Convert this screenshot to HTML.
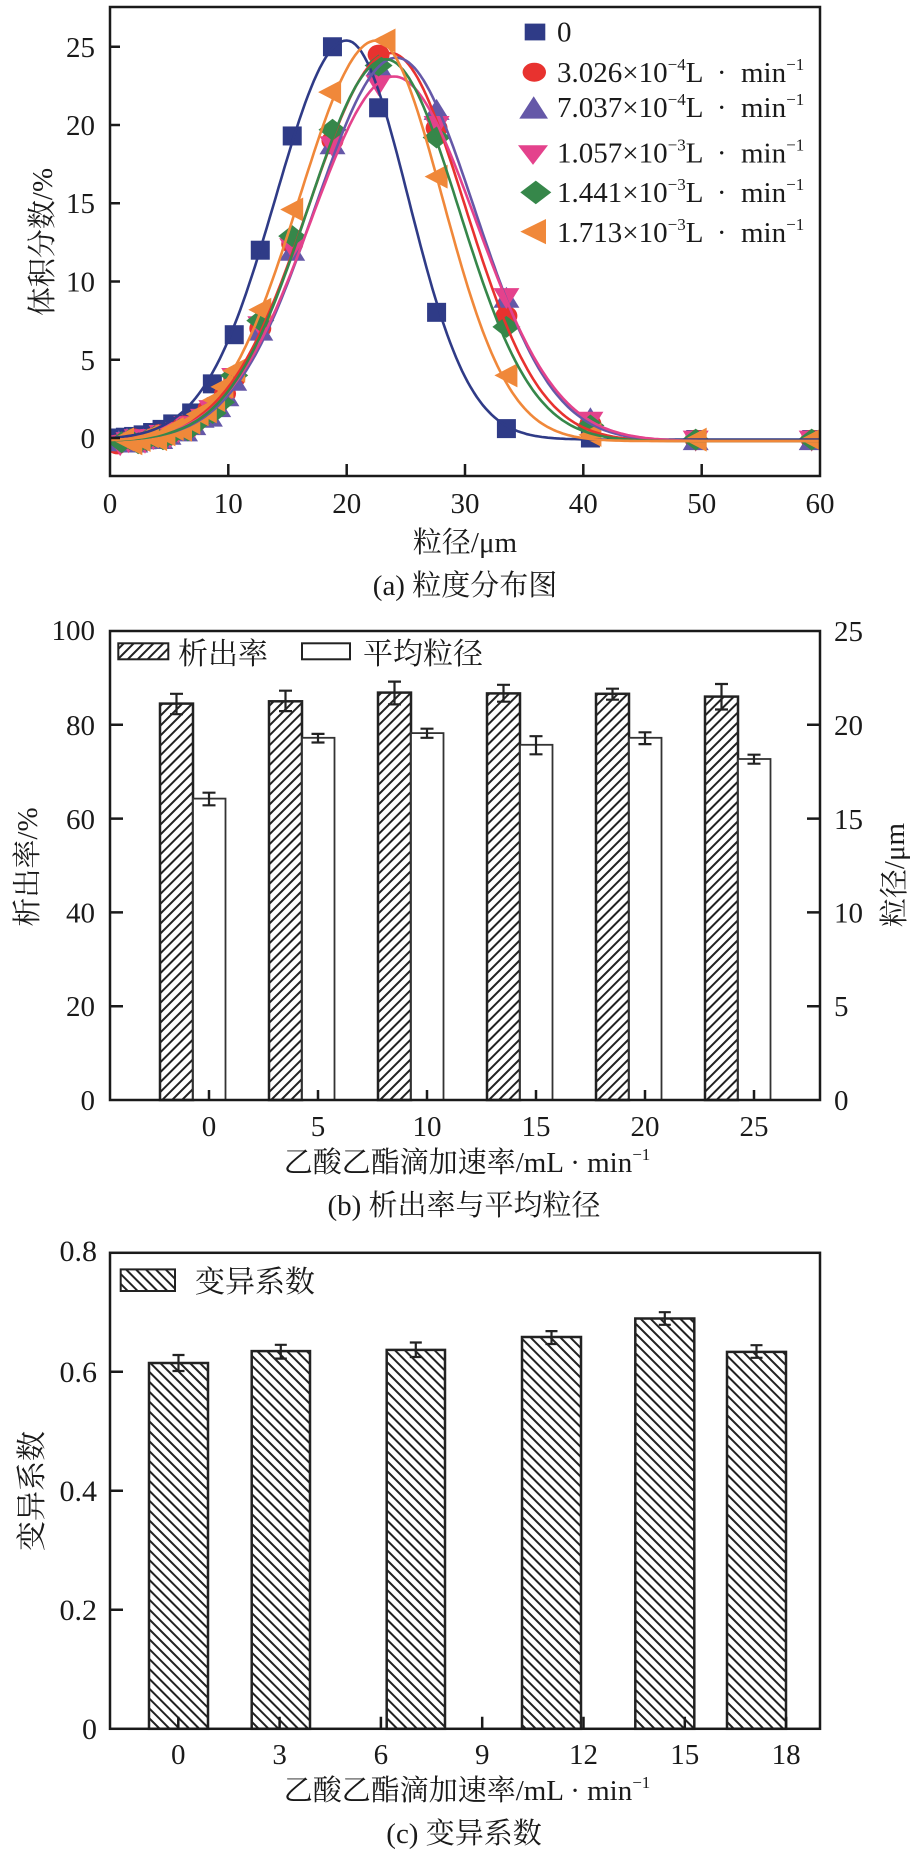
<!DOCTYPE html>
<html><head><meta charset="utf-8">
<style>
html,body{margin:0;padding:0;background:#fff;}
svg{display:block;}
text{font-family:"Liberation Serif","Noto Serif CJK SC",serif;fill:#1a1a1a;white-space:pre;}
</style></head><body>
<svg id="root" xmlns="http://www.w3.org/2000/svg" width="924" height="1851" viewBox="0 0 924 1851">
<defs>
<pattern id="hb" patternUnits="userSpaceOnUse" width="7" height="7" patternTransform="rotate(45)"><rect width="7" height="7" fill="#fff"/><line x1="3.5" y1="-1" x2="3.5" y2="8" stroke="#222" stroke-width="2"/></pattern>
<pattern id="hc" patternUnits="userSpaceOnUse" width="7" height="7" patternTransform="rotate(-45)"><rect width="7" height="7" fill="#fff"/><line x1="3.5" y1="-1" x2="3.5" y2="8" stroke="#222" stroke-width="2"/></pattern>
<clipPath id="ca"><rect x="110" y="7" width="710" height="469"/></clipPath>
</defs>

<!-- ============ Panel A ============ -->
<g id="aseries" clip-path="url(#ca)"></g>
<rect x="110" y="7" width="710" height="469" fill="none" stroke="#1a1a1a" stroke-width="2.5"/>
<path d="M110,438h10M110,359.75h10M110,281.5h10M110,203.25h10M110,125h10M110,46.75h10M228.3,476v-12M346.7,476v-12M465,476v-12M583.3,476v-12M701.7,476v-12" stroke="#1a1a1a" stroke-width="2.5" fill="none"/>
<g font-size="29" text-anchor="end">
<text x="95" y="448">0</text>
<text x="95" y="370">5</text>
<text x="95" y="291.5">10</text>
<text x="95" y="213">15</text>
<text x="95" y="135">20</text>
<text x="95" y="57">25</text>
</g>
<g font-size="29" text-anchor="middle">
<text x="110" y="513">0</text>
<text x="228.3" y="513">10</text>
<text x="346.7" y="513">20</text>
<text x="465" y="513">30</text>
<text x="583.3" y="513">40</text>
<text x="701.7" y="513">50</text>
<text x="820" y="513">60</text>
</g>
<text font-size="29" text-anchor="middle" transform="translate(42,242) rotate(-90)" dy="10">体积分数/%</text>
<text font-size="29" text-anchor="middle" x="465" y="552">粒径/μm</text>
<text font-size="29" text-anchor="middle" x="465" y="595">(a) 粒度分布图</text>

<!-- legend A -->
<rect x="524.7" y="23.6" width="20.6" height="16.8" fill="#2f3b87"/>
<ellipse cx="534.3" cy="72.2" rx="11.7" ry="9.5" fill="#e8322f"/>
<polygon points="519.3,118.6 548,118.6 533.7,96.2" fill="#6558a8"/>
<polygon points="518,145.3 548,145.3 533,164.9" fill="#e4428c"/>
<polygon points="520.3,192.4 535.8,180.6 551.3,192.4 535.8,204.2" fill="#36874a"/>
<polygon points="520.3,231.6 546,219 546,244.2" fill="#f0883a"/>
<g font-size="29">
<text x="557" y="41.5">0</text>
<text x="557" y="82">3.026×10<tspan font-size="17" dy="-12">−4</tspan><tspan dy="12">L  ·  min</tspan><tspan font-size="17" dy="-12">−1</tspan></text>
<text x="557" y="117">7.037×10<tspan font-size="17" dy="-12">−4</tspan><tspan dy="12">L  ·  min</tspan><tspan font-size="17" dy="-12">−1</tspan></text>
<text x="557" y="162.5">1.057×10<tspan font-size="17" dy="-12">−3</tspan><tspan dy="12">L  ·  min</tspan><tspan font-size="17" dy="-12">−1</tspan></text>
<text x="557" y="202">1.441×10<tspan font-size="17" dy="-12">−3</tspan><tspan dy="12">L  ·  min</tspan><tspan font-size="17" dy="-12">−1</tspan></text>
<text x="557" y="242">1.713×10<tspan font-size="17" dy="-12">−3</tspan><tspan dy="12">L  ·  min</tspan><tspan font-size="17" dy="-12">−1</tspan></text>
</g>

<!-- ============ Panel B ============ -->
<g stroke="#222" stroke-width="2.5" fill="url(#hb)">
<rect x="160" y="703.6" width="33" height="396.4"/>
<rect x="269" y="701.3" width="33" height="398.7"/>
<rect x="378" y="692.6" width="33" height="407.4"/>
<rect x="487" y="693.4" width="33" height="406.6"/>
<rect x="596" y="693.8" width="33" height="406.2"/>
<rect x="705" y="696.6" width="33" height="403.4"/>
</g>
<g stroke="#333" stroke-width="1.8" fill="#fff">
<rect x="193" y="798.6" width="32.5" height="301.4"/>
<rect x="302" y="737.8" width="32.5" height="362.2"/>
<rect x="411" y="733.1" width="32.5" height="366.9"/>
<rect x="520" y="744.8" width="32.5" height="355.2"/>
<rect x="629" y="737.8" width="32.5" height="362.2"/>
<rect x="738" y="759" width="32.5" height="341"/>
</g>
<path fill="none" stroke="#222" stroke-width="2.2" d="
M176.5,693.8V714.2M170,693.8h13M170,714.2h13
M285.5,690.7V711.1M279,690.7h13M279,711.1h13
M394.5,681.6V704.4M388,681.6h13M388,704.4h13
M503.5,684.8V701.7M497,684.8h13M497,701.7h13
M612.5,688.7V699.7M606,688.7h13M606,699.7h13
M721.5,684V709.5M715,684h13M715,709.5h13
M209,792.7V805.3M202.5,792.7h13M202.5,805.3h13
M318,733.9V742.5M311.5,733.9h13M311.5,742.5h13
M427,728.7V737.8M420.5,728.7h13M420.5,737.8h13
M536,736.2V754.3M529.5,736.2h13M529.5,754.3h13
M645,732.3V744.1M638.5,732.3h13M638.5,744.1h13
M754,754.7V763.7M747.5,754.7h13M747.5,763.7h13"/>
<rect x="110" y="631" width="710" height="469" fill="none" stroke="#1a1a1a" stroke-width="2.5"/>
<path d="M110,724.8h13M110,818.6h13M110,912.4h13M110,1006.2h13M820,724.8h-13M820,818.6h-13M820,912.4h-13M820,1006.2h-13M209,1100v-10M318,1100v-10M427,1100v-10M536,1100v-10M645,1100v-10M754,1100v-10" stroke="#1a1a1a" stroke-width="2.5" fill="none"/>
<g font-size="29" text-anchor="end">
<text x="95" y="640">100</text>
<text x="95" y="735">80</text>
<text x="95" y="829">60</text>
<text x="95" y="922.5">40</text>
<text x="95" y="1016">20</text>
<text x="95" y="1110">0</text>
</g>
<g font-size="29">
<text x="834" y="641">25</text>
<text x="834" y="735">20</text>
<text x="834" y="829">15</text>
<text x="834" y="922.5">10</text>
<text x="834" y="1016">5</text>
<text x="834" y="1110">0</text>
</g>
<g font-size="29" text-anchor="middle">
<text x="209" y="1136">0</text>
<text x="318" y="1136">5</text>
<text x="427" y="1136">10</text>
<text x="536" y="1136">15</text>
<text x="645" y="1136">20</text>
<text x="754" y="1136">25</text>
</g>
<text font-size="29" text-anchor="middle" transform="translate(27,867) rotate(-90)" dy="10">析出率/%</text>
<text font-size="29" text-anchor="middle" transform="translate(894,875) rotate(-90)" dy="10">粒径/μm</text>
<text font-size="29" text-anchor="middle" x="467" y="1172">乙酸乙酯滴加速率/mL · min<tspan font-size="17" dy="-12">−1</tspan></text>
<text font-size="29" text-anchor="middle" x="464" y="1215">(b) 析出率与平均粒径</text>
<rect x="118.3" y="643.3" width="50" height="16" fill="url(#hb)" stroke="#222" stroke-width="2"/>
<text font-size="30" x="178" y="664">析出率</text>
<rect x="302" y="643.3" width="48" height="16" fill="#fff" stroke="#222" stroke-width="2"/>
<text font-size="30" x="363" y="664">平均粒径</text>

<!-- ============ Panel C ============ -->
<g stroke="#222" stroke-width="2.5" fill="url(#hc)">
<rect x="149" y="1363" width="59" height="365.8"/>
<rect x="251.7" y="1351.1" width="58.3" height="377.7"/>
<rect x="386.7" y="1349.9" width="58.3" height="378.9"/>
<rect x="522" y="1337" width="59" height="391.8"/>
<rect x="635.3" y="1318.5" width="59" height="410.3"/>
<rect x="727" y="1351.9" width="59" height="376.9"/>
</g>
<path fill="none" stroke="#222" stroke-width="2.2" d="
M178.5,1355V1371M172.5,1355h12M172.5,1371h12
M280.8,1344.8V1358.6M274.8,1344.8h12M274.8,1358.6h12
M415.8,1342.5V1357M409.8,1342.5h12M409.8,1357h12
M551.5,1331.1V1344M545.5,1331.1h12M545.5,1344h12
M664.8,1312.2V1324.8M658.8,1312.2h12M658.8,1324.8h12
M756.5,1345.2V1357.8M750.5,1345.2h12M750.5,1357.8h12"/>
<rect x="110" y="1252.8" width="710" height="476" fill="none" stroke="#1a1a1a" stroke-width="2.5"/>
<path d="M110,1371.8h13M110,1490.8h13M110,1609.8h13M178.3,1728.8v-12M279.6,1728.8v-12M380.9,1728.8v-12M482.2,1728.8v-12M583.5,1728.8v-12M684.8,1728.8v-12M786.1,1728.8v-12" stroke="#1a1a1a" stroke-width="2.5" fill="none"/>
<g font-size="30" text-anchor="end">
<text x="97" y="1261">0.8</text>
<text x="97" y="1382">0.6</text>
<text x="97" y="1501">0.4</text>
<text x="97" y="1620">0.2</text>
<text x="97" y="1739">0</text>
</g>
<g font-size="29" text-anchor="middle">
<text x="178.3" y="1764">0</text>
<text x="279.6" y="1764">3</text>
<text x="380.9" y="1764">6</text>
<text x="482.2" y="1764">9</text>
<text x="583.5" y="1764">12</text>
<text x="684.8" y="1764">15</text>
<text x="786.1" y="1764">18</text>
</g>
<text font-size="30" text-anchor="middle" transform="translate(32,1491) rotate(-90)" dy="10">变异系数</text>
<text font-size="29" text-anchor="middle" x="467" y="1800">乙酸乙酯滴加速率/mL · min<tspan font-size="17" dy="-12">−1</tspan></text>
<text font-size="29" text-anchor="middle" x="464" y="1843">(c) 变异系数</text>
<rect x="120.7" y="1269.4" width="54.3" height="21.6" fill="url(#hc)" stroke="#222" stroke-width="2"/>
<text font-size="30" x="195" y="1292">变异系数</text>
</svg>

<script>
(function(){
var NS="http://www.w3.org/2000/svg";
var g=document.getElementById("aseries");
function X(v){return 110+v*11.833;}
function Y(v){return 438-v*15.65;}
function f(s,x){var sg=x<s.xc?s.sl:s.sr;return s.y0+s.A*Math.exp(-(x-s.xc)*(x-s.xc)/(2*sg*sg));}
var S=[
{c:"#2f3b87",m:"sq",xc:20,A:25.5,sl:6.0,sr:5.2,y0:-0.1,
 low:[[0.6,0],[1.3,0.05],[2.0,0.1],[2.8,0.2],[3.6,0.35],[4.4,0.55],[5.3,0.9]],
 pts:[[6.9,1.6],[8.65,3.46],[10.5,6.6],[12.7,12.0],[15.4,19.3],[18.8,25.0],[22.7,21.1],[27.6,8.03],[33.5,0.6],[40.6,0],[49.5,-0.1],[59.3,-0.1]]},
{c:"#e8322f",m:"ci",xc:23.7,A:24.8,sl:6.9,sr:6.3,y0:-0.2,
 pts:[[10.5,3.8],[12.7,7.0],[15.4,12.4],[18.8,19.0],[22.7,24.5],[27.6,19.8],[33.5,7.8],[40.6,0.9],[49.5,-0.1],[59.3,-0.1]]},
{c:"#6558a8",m:"tu",xc:24.2,A:24.5,sl:6.9,sr:6.6,y0:-0.2,
 pts:[[10.5,3.6],[12.7,6.8],[15.4,11.9],[18.8,18.7],[22.7,23.7],[27.6,20.9],[33.5,8.9],[40.6,1.2],[49.5,-0.2],[59.3,-0.2]]},
{c:"#e4428c",m:"td",xc:24.0,A:23.3,sl:7.0,sr:6.9,y0:-0.2,
 pts:[[10.5,3.9],[12.7,7.2],[15.4,12.2],[18.8,18.7],[22.7,22.6],[27.6,20.0],[33.5,9.0],[40.6,1.1],[49.5,-0.1],[59.3,-0.1]]},
{c:"#36874a",m:"di",xc:23.3,A:24.4,sl:6.6,sr:6.2,y0:-0.2,
 pts:[[10.5,4.0],[12.7,7.5],[15.4,12.9],[18.8,19.7],[22.7,23.8],[27.6,19.2],[33.5,7.1],[40.6,0.8],[49.5,-0.1],[59.3,-0.1]]},
{c:"#f0883a",m:"tl",xc:22.5,A:25.6,sl:6.5,sr:5.6,y0:-0.2,
 pts:[[10.5,4.3],[12.7,8.2],[15.4,14.6],[18.6,22.1],[23.2,25.4],[27.6,16.7],[33.5,4.0],[40.6,0.2],[49.5,-0.1],[59.3,-0.1]]}
];
function el(n,a){var e=document.createElementNS(NS,n);for(var k in a)e.setAttribute(k,a[k]);g.appendChild(e);return e;}
function mk(m,x,y,c){
 if(m=="sq")el("rect",{x:x-9.5,y:y-9.5,width:19,height:19,fill:c});
 else if(m=="ci")el("ellipse",{cx:x,cy:y,rx:11,ry:10,fill:c});
 else{var p;
  if(m=="tu")p=[[x-13,y+9],[x+13,y+9],[x,y-12]];
  else if(m=="td")p=[[x-13,y-9],[x+13,y-9],[x,y+12]];
  else if(m=="di")p=[[x-14,y],[x,y-11],[x+14,y],[x,y+11]];
  else p=[[x-12,y],[x+11,y-12],[x+11,y+12]];
  el("polygon",{points:p.map(function(q){return q[0].toFixed(1)+","+q[1].toFixed(1);}).join(" "),fill:c});}
}
S.forEach(function(s,i){
 var low=s.low;
 if(!low){low=[];for(var x=0.5+i*0.12;x<9.9;x+=0.7){var off=((Math.round(x*10)%3)-1)*0.15-0.15;low.push([x,f(s,x)+off]);}}
 low.concat(s.pts).forEach(function(p){mk(s.m,X(p[0]),Y(p[1]),s.c);});
});
S.forEach(function(s){
 var d="";for(var x=0;x<=60.001;x+=0.25){d+=(d?"L":"M")+X(x).toFixed(1)+","+Y(f(s,x)).toFixed(1);}
 el("path",{d:d,fill:"none",stroke:s.c,"stroke-width":2.6,"stroke-linejoin":"round"});
});
})();
</script>
</body></html>
